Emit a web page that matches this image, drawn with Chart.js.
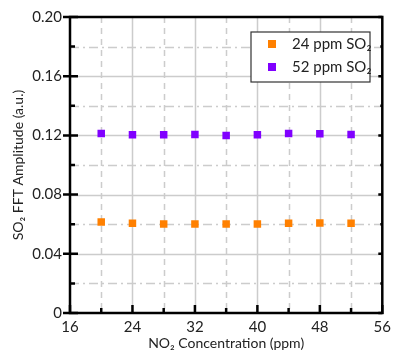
<!DOCTYPE html>
<html>
<head>
<meta charset="utf-8">
<script src="https://cdn.jsdelivr.net/npm/chart.js@4.4.0/dist/chart.umd.min.js"></script>
<style>
  body { margin: 0; background: #fff; }
</style>
</head>
<body>
<canvas id="myChart" width="396" height="352"></canvas>
<script>
// NO2 concentration (ppm)
const no2 = [20, 24, 28, 32, 36, 40, 44, 48, 52];
// SO2 FFT amplitude
const so2_24 = [0.0615, 0.0606, 0.0602, 0.0602, 0.0602, 0.0602, 0.0606, 0.0608, 0.0606];
const so2_52 = [0.1213, 0.1205, 0.1204, 0.1206, 0.1200, 0.1204, 0.1213, 0.1211, 0.1206];
const seriesLabels = ['24 ppm SO\u2082', '52 ppm SO\u2082'];
const seriesColors = ['#ff8000', '#8000ff'];

const FONT = 'Lato';

function pts(ys) {
  return no2.map((x, i) => ({ x: x, y: ys[i] }));
}

// grid, frame and tick marks drawn from the scales
const framePlugin = {
  id: 'frame',
  beforeDatasetsDraw(chart) {
    const { ctx, chartArea: a, scales } = chart;
    const x = scales.x, y = scales.y;
    ctx.save();
    ctx.strokeStyle = '#cccccc';
    ctx.lineWidth = 1.5;
    x.ticks.forEach(t => {
      if (t.value <= x.min || t.value >= x.max) return;
      const px = Math.round(x.getPixelForValue(t.value)) + 0.5;
      ctx.setLineDash(t.value % 8 === 0 ? [] : [6, 5]);
      ctx.beginPath(); ctx.moveTo(px, a.top); ctx.lineTo(px, a.bottom); ctx.stroke();
    });
    y.ticks.forEach(t => {
      if (t.value <= y.min + 1e-9 || t.value >= y.max - 1e-9) return;
      const py = Math.round(y.getPixelForValue(t.value)) + 0.5;
      const major = Math.round(t.value * 100) % 4 === 0;
      ctx.setLineDash(major ? [] : [9, 4, 2, 4]);
      ctx.beginPath(); ctx.moveTo(a.left, py); ctx.lineTo(a.right, py); ctx.stroke();
    });
    ctx.restore();
  },
  afterDatasetsDraw(chart) {
    const { ctx, chartArea: a, scales } = chart;
    const x = scales.x, y = scales.y;
    ctx.save();
    ctx.strokeStyle = '#000';
    ctx.lineWidth = 2.5;
    ctx.strokeRect(a.left, a.top, a.right - a.left, a.bottom - a.top);
    y.ticks.forEach(t => {
      const py = y.getPixelForValue(t.value);
      const major = Math.round(t.value * 100) % 4 === 0;
      ctx.beginPath();
      if (major) { ctx.moveTo(a.left - 7, py); ctx.lineTo(a.left + 8, py); }
      else { ctx.moveTo(a.left, py); ctx.lineTo(a.left + 5, py); }
      ctx.moveTo(a.right, py); ctx.lineTo(a.right - (major ? 4 : 2), py);
      ctx.stroke();
    });
    x.ticks.forEach(t => {
      const px = x.getPixelForValue(t.value);
      const major = t.value % 8 === 0;
      ctx.beginPath();
      ctx.moveTo(px, a.bottom + (major ? 1 : 0));
      ctx.lineTo(px, a.bottom - (major ? 8 : 5));
      ctx.stroke();
    });

    // legend box
    const lx = 251, ly = 32, lw = 119, lh = 50;
    ctx.fillStyle = '#fff';
    ctx.fillRect(lx, ly, lw, lh);
    ctx.lineWidth = 1.2;
    ctx.strokeStyle = '#333';
    ctx.strokeRect(lx, ly, lw, lh);
    ctx.font = '15px ' + FONT;
    ctx.textBaseline = 'middle';
    chart.data.datasets.forEach((ds, i) => {
      const cy = ly + 12 + i * 23;
      ctx.fillStyle = ds.backgroundColor;
      ctx.fillRect(268, cy - 4, 8, 8);
      ctx.fillStyle = '#222';
      ctx.fillText(ds.label, 292, cy);
    });
    ctx.restore();
  }
};

const ctx = document.getElementById('myChart').getContext('2d');
const myChart = new Chart(ctx, {
  type: 'scatter',
  data: {
    datasets: [
      { label: seriesLabels[0], data: pts(so2_24), backgroundColor: seriesColors[0], borderColor: seriesColors[0],
        pointStyle: 'rect', pointRadius: 5.3, borderWidth: 0 },
      { label: seriesLabels[1], data: pts(so2_52), backgroundColor: seriesColors[1], borderColor: seriesColors[1],
        pointStyle: 'rect', pointRadius: 5.3, borderWidth: 0 }
    ]
  },
  options: {
    responsive: false,
    animation: false,
    layout: { padding: { top: 15, right: 8, left: 0, bottom: 0 } },
    plugins: { legend: { display: false }, tooltip: { enabled: false } },
    scales: {
      x: {
        type: 'linear', min: 16, max: 56,
        grid: { display: false, drawTicks: false },
        border: { display: false },
        ticks: {
          stepSize: 4, autoSkip: false, maxRotation: 0, padding: 5,
          color: '#222', font: { family: FONT, size: 15 },
          callback: v => (v % 8 === 0 ? String(v) : '')
        },
        title: { display: true, text: 'NO\u2082 Concentration (ppm)', color: '#222',
          font: { family: FONT, size: 14 }, padding: { top: 0, bottom: 0 } },
        afterFit: s => { s.height = 39; }
      },
      y: {
        min: 0, max: 0.2,
        grid: { display: false, drawTicks: false },
        border: { display: false },
        ticks: {
          stepSize: 0.02, autoSkip: false, padding: 8,
          color: '#222', font: { family: FONT, size: 15 },
          callback: v => {
            const k = Math.round(v * 100);
            if (k % 4 !== 0) return '';
            return k === 0 ? '0' : v.toFixed(2);
          }
        },
        title: { display: true, text: 'SO\u2082 FFT Amplitude (a.u.)', color: '#222',
          font: { family: FONT, size: 14 }, padding: { top: 10, bottom: 0 } },
        afterFit: s => { s.width = 70; }
      }
    }
  },
  plugins: [framePlugin]
});
</script>
</body>
</html>
